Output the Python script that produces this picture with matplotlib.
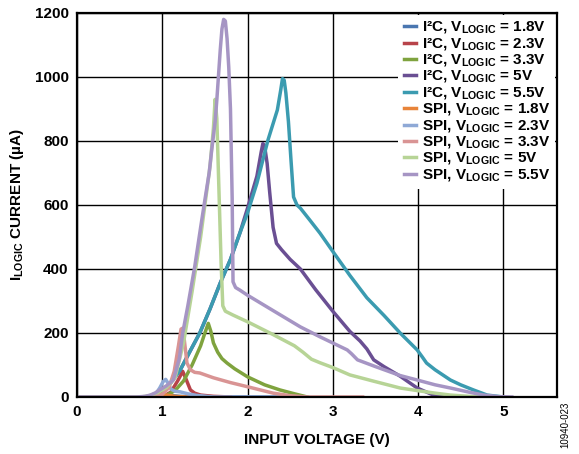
import matplotlib
matplotlib.use("Agg")
import matplotlib.pyplot as plt

plt.rcParams['font.family'] = ['Liberation Sans', 'DejaVu Sans']
plt.rcParams['font.weight'] = 'bold'
plt.rcParams['mathtext.fontset'] = 'custom'
plt.rcParams['mathtext.bf'] = 'Liberation Sans:bold'
plt.rcParams['mathtext.rm'] = 'Liberation Sans:bold'

#------------------------------ data (V, uA)
i2c_18_x = [0, 0.85, 0.95, 1.05, 1.2, 1.4, 2.45]
i2c_18_y = [0, 0, 5, 6, 2, 0, 0]

i2c_23_x = [0, 1.0, 1.1, 1.18, 1.24, 1.28, 1.33, 1.38, 1.45, 1.6, 1.8]
i2c_23_y = [0, 0, 15, 50, 80, 55, 22, 12, 6, 2, 0]

i2c_33_x = [0, 0.95, 1.05, 1.15, 1.25, 1.35, 1.45, 1.5, 1.54, 1.57, 1.6, 1.65,
            1.7, 1.76, 1.85, 2.0, 2.2, 2.38, 2.55, 2.7]
i2c_33_y = [0, 0, 5, 20, 50, 100, 160, 200, 230, 205, 169, 140,
            120, 106, 88, 63, 38, 22, 10, 0]

i2c_50_x = [0, 0.8, 0.9, 1.0, 1.1, 1.21, 1.32, 1.44, 1.56, 1.68, 1.8, 1.91,
            2.0, 2.11, 2.16, 2.18, 2.2, 2.23, 2.26, 2.3, 2.34, 2.4, 2.5, 2.62,
            2.8, 3.0, 3.2, 3.32, 3.4, 3.48, 3.6, 3.79, 3.99, 4.18, 4.4]
i2c_50_y = [0, 0, 6, 20, 45, 84, 140, 200, 275, 356, 430, 512,
            590, 690, 765, 792, 785, 730, 640, 530, 480, 460, 430, 400,
            335, 268, 205, 175, 150, 116, 95, 65, 28, 6, 0]

i2c_55_x = [0, 0.8, 0.9, 1.0, 1.1, 1.21, 1.32, 1.44, 1.56, 1.68, 1.8, 1.91,
            2.0, 2.11, 2.24, 2.35, 2.39, 2.41, 2.43, 2.45, 2.48, 2.51, 2.54,
            2.58, 2.62, 2.73, 2.85, 3.0, 3.2, 3.4, 3.6, 3.79, 3.99, 4.05, 4.1,
            4.2, 4.38, 4.5, 4.65, 4.81, 5.0]
i2c_55_y = [0, 0, 6, 20, 45, 84, 140, 200, 275, 356, 430, 512,
            575, 668, 803, 897, 960, 995, 990, 950, 860, 740, 625,
            600, 590, 553, 512, 455, 380, 310, 255, 200, 147, 125, 106,
            85, 53, 38, 22, 6, 0]

spi_18_x = [0, 0.8, 0.9, 0.97, 1.05, 1.15, 1.3]
spi_18_y = [0, 0, 6, 10, 6, 2, 0]

spi_23_x = [0, 0.85, 0.92, 0.97, 1.01, 1.04, 1.07, 1.1, 1.15, 1.21, 1.3, 1.4, 1.6, 2.45]
spi_23_y = [0, 0, 8, 28, 48, 55, 42, 25, 18, 16, 10, 5, 0, 0]

spi_33_x = [0, 0.9, 1.0, 1.08, 1.14, 1.19, 1.22, 1.24, 1.26, 1.29, 1.33, 1.38,
            1.44, 1.6, 1.8, 2.0, 2.3, 2.5, 2.7, 3.35]
spi_33_y = [0, 0, 8, 30, 80, 160, 212, 215, 175, 106, 85, 77,
            75, 60, 45, 32, 12, 4, 0, 0]

spi_50_x = [0, 0.75, 0.85, 0.95, 1.05, 1.15, 1.25, 1.35, 1.45, 1.52, 1.56, 1.6,
            1.62, 1.64, 1.67, 1.69, 1.71, 1.74, 1.83, 2.0, 2.3, 2.55, 2.65,
            2.75, 2.85, 3.0, 3.2, 3.47, 3.79, 3.99, 4.2, 4.38, 4.6, 4.9]
spi_50_y = [0, 0, 4, 14, 30, 60, 170, 330, 500, 640, 720, 840,
            930, 870, 600, 420, 285, 268, 256, 235, 195, 160, 140,
            118, 107, 92, 69, 50, 28, 20, 12, 6, 2, 0]

spi_55_x = [0, 0.7, 0.8, 0.86, 0.92, 0.97, 1.05, 1.13, 1.2, 1.24, 1.3, 1.38,
            1.45, 1.5, 1.55, 1.58, 1.62, 1.64, 1.68, 1.7, 1.72, 1.74, 1.76,
            1.78, 1.8, 1.82, 1.83, 1.86, 1.91, 2.0, 2.3, 2.62, 2.85, 3.17,
            3.22, 3.29, 3.5, 3.79, 3.99, 4.2, 4.38, 4.6, 4.77, 4.95, 5.1]
spi_55_y = [0, 0, 2, 6, 13, 22, 35, 53, 120, 200, 285, 406,
            530, 616, 700, 772, 860, 928, 1084, 1150, 1180, 1175, 1120,
            1030, 900, 620, 360, 342, 334, 318, 270, 219, 188, 147,
            135, 116, 95, 67, 53, 38, 28, 15, 6, 1, 0]

labels = ["I²C, V$_{\\mathbf{LOGIC}}$ = 1.8V",
          "I²C, V$_{\\mathbf{LOGIC}}$ = 2.3V",
          "I²C, V$_{\\mathbf{LOGIC}}$ = 3.3V",
          "I²C, V$_{\\mathbf{LOGIC}}$ = 5V",
          "I²C, V$_{\\mathbf{LOGIC}}$ = 5.5V",
          "SPI, V$_{\\mathbf{LOGIC}}$ = 1.8V",
          "SPI, V$_{\\mathbf{LOGIC}}$ = 2.3V",
          "SPI, V$_{\\mathbf{LOGIC}}$ = 3.3V",
          "SPI, V$_{\\mathbf{LOGIC}}$ = 5V",
          "SPI, V$_{\\mathbf{LOGIC}}$ = 5.5V"]
colors = ['#4a76b0', '#b8434a', '#7fa33e', '#6a4f93', '#3b9bb0',
          '#e8843a', '#8fa9d6', '#d99494', '#b7d496', '#a695c4']

series = [(i2c_18_x, i2c_18_y), (i2c_23_x, i2c_23_y), (i2c_33_x, i2c_33_y),
          (i2c_50_x, i2c_50_y), (i2c_55_x, i2c_55_y),
          (spi_18_x, spi_18_y), (spi_23_x, spi_23_y), (spi_33_x, spi_33_y),
          (spi_50_x, spi_50_y), (spi_55_x, spi_55_y)]

#------------------------------
fig = plt.figure(figsize=(5.79, 4.54), dpi=100)
ax = fig.add_axes([0.133, 0.1256, 0.829, 0.8458])

for (xs, ys), lab, c in zip(series, labels, colors):
    ax.plot(xs, ys, color=c, lw=2.5, label=lab, solid_joinstyle='round')

ax.set_xlim(0, 5.63)
ax.set_ylim(0, 1200)
ax.set_xticks([0, 1, 2, 3, 4, 5])
ax.set_yticks([0, 200, 400, 600, 800, 1000, 1200])
ax.grid(True, color='black', lw=1.0)
ax.set_axisbelow(True)
ax.tick_params(length=0, labelsize=11, pad=6)
for lab in ax.get_xticklabels() + ax.get_yticklabels():
    lab.set_fontweight('bold')
for sp in ax.spines.values():
    sp.set_linewidth(1.6)

ax.set_xlabel("INPUT VOLTAGE (V)", fontsize=11, fontweight='bold', labelpad=10)
ax.set_ylabel("I$_{\\mathbf{LOGIC}}$ CURRENT (µA)", fontsize=11,
              fontweight='bold', labelpad=6)

leg = ax.legend(loc='upper right', fontsize=11, frameon=True, framealpha=1,
                facecolor='white', edgecolor='none', fancybox=False,
                handlelength=0.8, handletextpad=0.4, labelspacing=0.0,
                borderpad=0.35, borderaxespad=0.1)
for line in leg.get_lines():
    line.set_linewidth(2.5)

fig.text(0.976, 0.065, "10940-023", rotation=90, fontsize=7,
         fontweight='normal', ha='center', va='center')

fig.savefig("out.png", dpi=100)
